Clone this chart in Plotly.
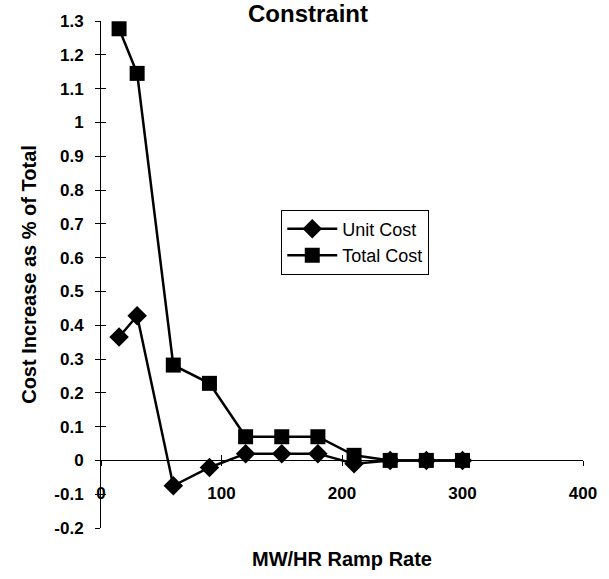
import plotly.graph_objects as go

ramp_rate = [15, 30, 60, 90, 120, 150, 180, 210, 240, 270, 300]
unit_cost = [0.365, 0.428, -0.075, -0.021, 0.02, 0.02, 0.02, -0.01, 0, 0, 0]
total_cost = [1.277, 1.145, 0.282, 0.228, 0.07, 0.07, 0.07, 0.015, 0, 0, 0]

x_ticks = [0, 100, 200, 300, 400]
y_ticks = [-0.2, -0.1, 0, 0.1, 0.2, 0.3, 0.4, 0.5, 0.6, 0.7, 0.8, 0.9, 1, 1.1, 1.2, 1.3]

FONT = "Arial, Liberation Sans, sans-serif"

fig = go.Figure()
fig.add_trace(go.Scatter(
    x=ramp_rate, y=unit_cost, name="Unit Cost", mode="lines+markers",
    line=dict(color="black", width=2.5),
    marker=dict(symbol="diamond", size=15, color="black"),
))
fig.add_trace(go.Scatter(
    x=ramp_rate, y=total_cost, name="Total Cost", mode="lines+markers",
    line=dict(color="black", width=2.5),
    marker=dict(symbol="square", size=15, color="black"),
))

y0_frac = 0.2 / 1.5

fig.update_layout(
    width=609, height=579,
    margin=dict(l=101, r=26, t=16, b=49),
    paper_bgcolor="white", plot_bgcolor="white",
    font=dict(family=FONT, color="black"),
    showlegend=True,
    legend=dict(
        x=0.374, y=0.628, xanchor="left", yanchor="top",
        bordercolor="black", borderwidth=1, bgcolor="white",
        font=dict(size=18, family=FONT, color="black"),
        itemwidth=50,
    ),
    xaxis=dict(
        range=[0, 400], tickvals=x_ticks,
        ticktext=["<b>%d</b>" % v for v in x_ticks],
        anchor="free", position=y0_frac,
        showline=True, linecolor="black", linewidth=1,
        ticks="outside", ticklen=5, tickcolor="black",
        showgrid=False, zeroline=False,
        tickfont=dict(size=17, family=FONT, color="black"),
        ticklabelstandoff=12,
        title=dict(text="<b>MW/HR Ramp Rate</b>", standoff=50,
                   font=dict(size=20, family=FONT, color="black")),
    ),
    yaxis=dict(
        range=[-0.2, 1.3], tickvals=y_ticks,
        ticktext=["<b>%g</b>" % v for v in y_ticks],
        showline=True, linecolor="black", linewidth=1,
        ticks="outside", ticklen=5, tickcolor="black",
        showgrid=False, zeroline=False,
        tickfont=dict(size=17, family=FONT, color="black"),
        ticklabelstandoff=8,
        title=dict(text="<b>Cost Increase as % of Total</b>", standoff=12,
                   font=dict(size=20, family=FONT, color="black")),
    ),
    xaxis2=dict(
        range=[0, 400], tickvals=x_ticks, overlaying="x", anchor="free",
        position=y0_frac, ticks="inside", ticklen=5, tickcolor="black",
        showticklabels=False, showline=False, showgrid=False, zeroline=False,
    ),
    yaxis2=dict(
        range=[-0.2, 1.3], tickvals=y_ticks, overlaying="y", anchor="x",
        side="left", ticks="inside", ticklen=5, tickcolor="black",
        showticklabels=False, showline=False, showgrid=False, zeroline=False,
    ),
    annotations=[dict(
        text="<b>Constraint</b>", xref="paper", yref="paper",
        x=(308 - 101) / 482, y=1 + (16 - 24) / 514,
        xanchor="center", yanchor="bottom", showarrow=False,
        font=dict(size=24, family=FONT, color="black"),
    )],
)

fig.add_trace(go.Scatter(x=[None], y=[None], xaxis="x2", yaxis="y2",
                         showlegend=False, hoverinfo="skip"))

fig.write_html("out.html")
